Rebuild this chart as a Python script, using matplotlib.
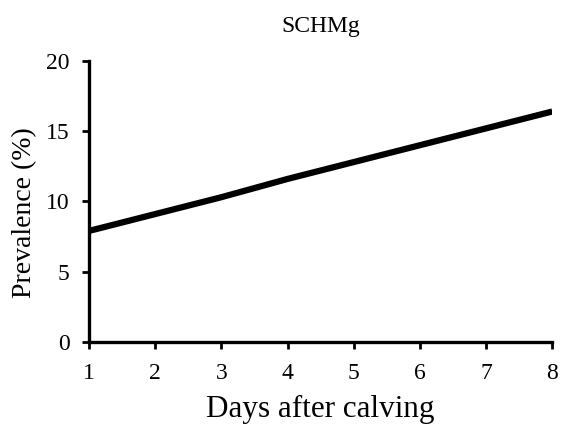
import matplotlib
matplotlib.use("Agg")
import matplotlib.pyplot as plt

# data
days = [1, 2, 3, 4, 5, 6, 7, 8]
prevalence = [7.9, 9.1, 10.3, 11.6, 12.8, 14.0, 15.2, 16.4]
y_ticks = [0, 5, 10, 15, 20]

plt.rcParams['font.family'] = ['Liberation Serif', 'DejaVu Serif']

fig = plt.figure(figsize=(5.67, 4.29), dpi=100)
ax = fig.add_axes([0.157, 0.203, 0.817, 0.655])

ax.plot(days, prevalence, color='black', lw=4.5, solid_capstyle='butt')

ax.set_xlim(1, 8)
ax.set_ylim(0, 20)
ax.set_xticks(days)
ax.set_yticks(y_ticks)
ax.tick_params(direction='out', length=5, width=2, labelsize=17)
ax.tick_params(axis='x', pad=10)
ax.tick_params(axis='y', pad=9)

for side in ['top', 'right']:
    ax.spines[side].set_visible(False)
for side in ['left', 'bottom']:
    ax.spines[side].set_linewidth(2.4)

ax.set_xlabel('Days after calving', fontsize=22.4, labelpad=8)
ax.set_ylabel('Prevalence (%)', fontsize=20)
ax.yaxis.set_label_coords(-0.113, 0.459)
ax.set_title('SCHMg', fontsize=17, pad=21)

fig.savefig('out.png', dpi=100)
